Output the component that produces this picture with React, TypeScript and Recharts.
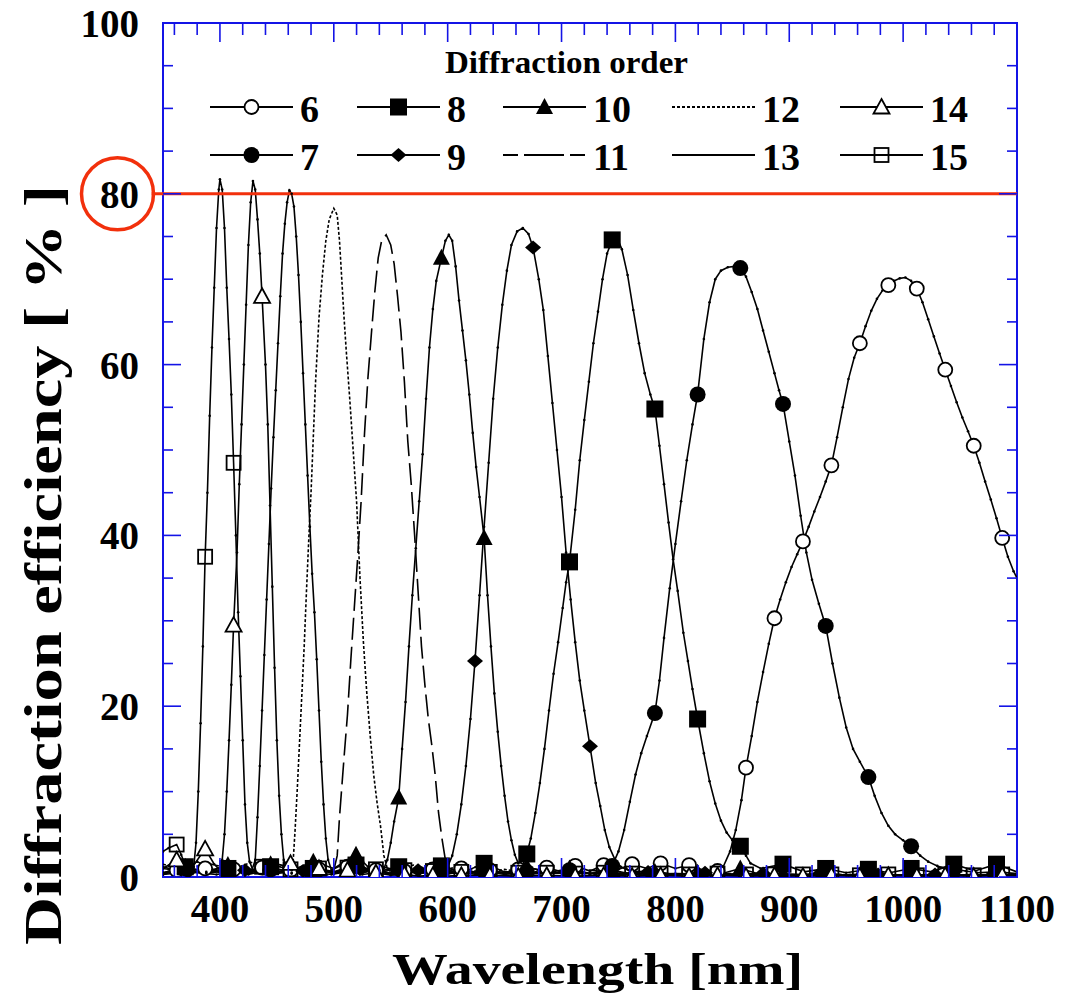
import React from 'react';
import { ComposedChart, Line, XAxis, YAxis, ReferenceArea, ReferenceLine } from 'recharts';

// ---------- data (wavelength nm, diffraction efficiency %) ----------
const ORDER_6: [number, number][] = [
  [350,0.3],[362,0.8],[375,0.4],[387,1.0],[400,0.5],[412,0.9],[425,0.4],[437,1.1],[450,0.5],[462,0.8],[475,0.4],[487,0.9],[500,0.5],[512,1.2],[525,0.5],[537,0.8],[550,0.4],[562,0.7],[575,0.4],[587,0.9],[600,0.5],[612,1.0],[625,0.4],[637,0.8],[650,0.5],[662,0.9],[675,0.5],[687,1.1],[700,0.6],[712,1.3],[725,0.7],[737,1.4],[750,0.9],[762,1.5],[775,1.0],[787,1.6],[800,1.0],[812,1.4],[825,0.8],[837,0.7],[842,1.2],[848,3.0],[853,5.5],[858,9.0],[862,12.8],[867,16.5],[872,20.5],[877,24.0],[882,27.3],[887,30.3],[892,32.5],[897,34.5],[902,36.3],[907,37.8],[912,39.3],[917,41.0],[922,42.8],[927,44.5],[932,46.3],[937,48.2],[942,51.5],[947,55.0],[952,58.3],[957,60.8],[962,62.5],[967,64.5],[972,66.3],[977,67.7],[982,68.7],[987,69.3],[992,69.8],[997,70.1],[1002,70.2],[1007,69.8],[1012,68.9],[1017,67.3],[1022,65.3],[1027,63.3],[1032,61.3],[1037,59.4],[1042,57.5],[1047,55.6],[1052,53.8],[1057,52.2],[1062,50.5],[1067,48.5],[1072,46.3],[1077,44.2],[1082,42.0],[1087,39.7],[1092,37.5],[1097,35.8],[1100,35.0],
];
const ORDER_7: [number, number][] = [
  [350,0.4],[369.5,1.0],[388,0.4],[407,0.8],[425,0.3],[444.5,0.9],[463,0.4],[482,1.1],[500,0.5],[519.5,1.3],[538,0.5],[557,1.0],[575,0.4],[594.5,0.8],[613,0.3],[632,0.7],[650,0.3],[669.5,0.6],[688,0.3],[707,0.8],[725,0.4],[735,0.5],[740,0.8],[744.5,1.3],[750,3.0],[755,5.5],[760,8.8],[765,12.0],[770,14.5],[775,16.5],[782,19.2],[786,23.0],[790,28.0],[795,33.8],[800,39.0],[805,44.0],[810,48.8],[815,53.0],[819.5,56.5],[825,63.0],[830,67.3],[835,70.0],[840,71.0],[846,71.4],[852,71.5],[857,71.3],[862,70.3],[867,68.5],[872,66.5],[877,64.0],[882,61.5],[887,59.0],[891,57.0],[894.5,55.4],[900,51.0],[905,47.0],[910,42.3],[915,38.0],[920,34.8],[926,32.0],[932,29.4],[938,25.0],[944,21.0],[950,17.5],[956,15.0],[962,13.5],[969.5,11.7],[975,9.5],[981,7.5],[987,6.0],[993,5.0],[1000,4.3],[1007,3.6],[1015,2.5],[1022,1.8],[1030,1.3],[1037,1.0],[1044.5,0.9],[1055,0.7],[1065,0.5],[1082,0.6],[1100,0.4],
];
const ORDER_8: [number, number][] = [
  [350,0.5],[369.5,1.2],[388,0.5],[407,1.0],[425,0.4],[444.5,1.2],[463,0.5],[482,1.0],[500,0.4],[519.5,1.4],[538,0.6],[557,1.2],[575,0.5],[594.5,1.3],[613,0.5],[632,1.6],[650,0.6],[660,0.6],[665,1.0],[669.5,2.7],[673,4.5],[677,7.5],[681,11.0],[685,15.0],[689,19.5],[693,23.8],[697,27.5],[701,31.5],[704,34.5],[707,36.9],[712,43.0],[716,48.8],[720,53.5],[724,58.0],[728,62.5],[732,66.2],[736,70.0],[740,73.0],[744.5,74.6],[749,74.8],[753,73.5],[758,70.5],[763,66.4],[768,62.5],[773,59.0],[778,56.5],[782,54.8],[786,50.5],[790,46.0],[794,41.5],[798,37.2],[802,33.5],[807,28.6],[811,25.3],[815,22.0],[819.5,18.5],[825,14.5],[830,11.2],[835,8.6],[840,6.6],[845,5.2],[850,4.3],[857,3.6],[862,2.5],[866,1.6],[875,1.0],[894.5,1.5],[913,0.6],[932,1.0],[950,0.5],[969.5,0.9],[988,0.5],[1007,1.0],[1025,0.6],[1044.5,1.5],[1063,0.7],[1082,1.5],[1100,0.6],
];
const ORDER_9: [number, number][] = [
  [350,0.3],[372,0.6],[397,0.3],[422,0.8],[447,0.4],[473,0.7],[498,0.3],[523,0.9],[548,0.4],[574,0.8],[590,0.5],[596,0.7],[600,1.2],[604,2.5],[608,5.0],[612,8.5],[616,13.0],[620,18.5],[624,25.3],[628,33.0],[632,41.0],[636,48.5],[640,56.0],[644,62.0],[648,67.0],[652,71.0],[656,74.0],[661,75.6],[666,76.0],[671,75.3],[675,73.7],[680,70.0],[684,66.4],[688,61.0],[692,55.5],[696,50.0],[700,44.5],[704,38.0],[708,32.5],[712,27.5],[716,23.0],[720,19.5],[725,15.3],[730,11.0],[734,8.3],[738,5.5],[742,3.5],[747,2.0],[752,1.2],[760,0.7],[776,0.6],[801,0.3],[826,0.5],[851,0.3],[877,0.4],[902,0.2],[927,0.4],[952,0.2],[978,0.3],[1003,0.2],[1028,0.3],[1053,0.2],[1079,0.3],[1100,0.2],
];
const ORDER_10: [number, number][] = [
  [350,0.5],[369.5,1.2],[388,0.6],[407,1.4],[425,0.7],[444.5,1.5],[463,0.8],[482,1.8],[500,1.0],[519.5,2.6],[530,1.2],[540,0.8],[544,1.0],[547,2.0],[550,4.0],[553,6.5],[557,9.3],[560,15.0],[563,20.5],[566,27.0],[569,33.0],[572,38.5],[575,44.0],[578,49.5],[581,56.0],[584,62.0],[587,66.5],[590,69.8],[594.5,72.5],[598,74.5],[601,75.2],[604,74.5],[607,71.5],[610,67.5],[613,64.0],[616,60.5],[619,56.5],[622,52.0],[625,48.0],[628,44.5],[632,39.7],[635,33.0],[638,27.0],[641,21.5],[644,17.0],[647,13.0],[650,9.5],[653,6.5],[656,4.3],[659,2.6],[662,1.6],[665,1.0],[669.5,1.2],[688,0.5],[707,1.0],[725,0.4],[744.5,0.8],[763,0.3],[782,0.6],[800,0.3],[819.5,0.5],[838,0.3],[857,1.0],[875,0.3],[894.5,0.4],[913,0.2],[932,0.4],[950,0.2],[969.5,0.3],[988,0.2],[1007,0.3],[1025,0.2],[1044.5,0.3],[1063,0.2],[1082,0.3],[1100,0.2],
];
const ORDER_11: [number, number][] = [
  [350,1.0],[375,0.5],[400,1.2],[425,0.6],[450,1.5],[475,0.8],[490,1.2],[500,0.8],[503,2.5],[505,7.0],[509,14.0],[512,19.0],[515,25.5],[518,31.5],[521,37.5],[524,44.0],[527,52.0],[530,58.5],[533,63.6],[536,68.5],[539,72.5],[542,74.5],[546,75.2],[550,74.0],[553,71.8],[556,68.0],[559,63.8],[562,58.0],[565,51.0],[568,46.0],[571,40.0],[574,33.5],[577,27.0],[580,22.5],[583,18.5],[586,15.5],[589,12.0],[592,7.5],[595,4.5],[598,2.0],[602,0.8],[606,0.6],[625,1.2],[650,0.5],[675,1.0],[700,0.4],[725,0.8],[750,0.4],[775,0.6],[800,0.3],[825,0.5],[850,0.3],[875,0.4],[900,0.3],[950,0.3],[1000,0.2],[1050,0.3],[1100,0.2],
];
const ORDER_12: [number, number][] = [
  [350,1.5],[370,0.8],[390,1.6],[410,0.9],[430,1.8],[445,1.0],[455,1.3],[460,0.6],[464,1.2],[466,5.5],[468,10.5],[470,16.0],[472,21.5],[474,27.0],[476,33.5],[478,39.5],[480,45.0],[482,51.5],[484,58.0],[487,65.5],[490,70.5],[493,74.5],[496,77.0],[500,78.3],[503,77.5],[505,74.5],[507,70.0],[509,65.5],[511,61.5],[514,56.0],[517,50.0],[520,44.0],[523,35.0],[526,27.5],[529,21.5],[532,16.5],[535,12.0],[538,8.7],[541,6.0],[544,2.5],[547,1.0],[550,0.6],[570,1.4],[590,0.7],[610,1.2],[630,0.5],[650,0.9],[670,0.4],[700,0.6],[730,0.3],[760,0.5],[800,0.3],[850,0.4],[900,0.2],[950,0.3],[1000,0.2],[1100,0.2],
];
const ORDER_13: [number, number][] = [
  [350,1.2],[365,0.6],[380,1.8],[395,0.8],[410,1.5],[420,0.7],[428,0.8],[431,2.0],[433,7.0],[435,13.0],[437,19.5],[439,26.0],[441,32.5],[443,39.0],[445,45.5],[447,51.5],[449,57.0],[451,62.5],[453,68.0],[455,73.0],[457,76.5],[459,79.0],[461,80.4],[463,80.0],[465,78.5],[467,75.0],[469,70.5],[471,65.0],[473,59.0],[475,53.0],[477,47.0],[479,41.0],[481,35.5],[483,31.0],[485,25.5],[487,19.5],[489,13.5],[491,8.5],[493,4.5],[495,2.0],[498,0.8],[510,1.6],[525,0.7],[540,1.3],[560,0.6],[580,1.0],[600,0.4],[630,0.7],[660,0.3],[700,0.5],[750,0.3],[800,0.4],[900,0.2],[1000,0.2],[1100,0.2],
];
const ORDER_14: [number, number][] = [
  [350,1.0],[362,2.0],[375,1.0],[387,3.3],[395,1.5],[400,0.8],[402,2.0],[404,5.0],[406,10.0],[408,16.0],[410,22.5],[412,29.5],[415,38.0],[417,46.0],[419,53.0],[421,60.0],[423,67.0],[425,74.0],[427,79.0],[429,81.5],[431,80.5],[433,77.0],[435,73.0],[437,68.0],[440,60.0],[442,53.0],[444,43.5],[446,34.0],[448,24.5],[450,16.0],[452,9.5],[454,5.0],[456,2.0],[458,1.0],[462,1.6],[475,0.6],[487,1.0],[500,0.4],[512,0.8],[525,0.3],[537,0.5],[550,0.2],[562,0.3],[575,0.1],[587,0.2],[600,0.1],[612,0.2],[637,0.2],[662,0.1],[687,0.2],[712,0.1],[737,0.2],[762,0.1],[787,0.2],[812,0.1],[837,0.2],[862,0.1],[887,0.2],[912,0.1],[937,0.2],[962,0.1],[987,0.2],[1012,0.1],[1037,0.2],[1062,0.1],[1087,0.2],[1100,0.1],
];
const ORDER_15: [number, number][] = [
  [350,3.0],[355,3.4],[362,3.8],[366,2.6],[370,1.2],[374,0.6],[377,1.2],[379,4.0],[381,10.0],[383,18.0],[385,27.0],[387,37.5],[389,45.0],[391,54.0],[393,62.0],[395,69.0],[397,76.0],[399,80.5],[400,81.7],[402,80.5],[404,76.0],[406,69.0],[408,63.0],[410,56.5],[412,48.5],[414,40.0],[416,31.0],[418,23.5],[420,16.0],[422,8.5],[424,4.0],[426,1.8],[429,0.8],[437,1.2],[449,0.6],[462,0.9],[475,0.5],[487,1.0],[500,0.6],[512,1.1],[525,0.5],[537,0.9],[550,0.4],[562,0.8],[575,0.4],[587,0.7],[600,0.4],[612,0.6],[625,0.3],[637,0.6],[662,0.5],[687,0.5],[712,0.4],[737,0.5],[762,0.4],[787,0.4],[812,0.3],[837,0.4],[862,0.3],[887,0.3],[912,0.3],[937,0.3],[962,0.2],[987,0.3],[1012,0.2],[1037,0.3],[1062,0.2],[1087,0.3],[1100,0.2],
];

// wavelengths at which the large symbols are drawn
const MARKS_25 = [362,387,412,437,462,487,512,537,562,587,612,637,662,687,712,737,762,787,812,837,862,887,912,937,962,987,1012,1037,1062,1087];
const MARKS_37 = [369.5,407,444.5,482,519.5,557,594.5,632,669.5,707,744.5,782,819.5,857,894.5,932,969.5,1007,1044.5,1082];
const MARKS_50 = [372,422,473,523,574,624,675,725,776,826,877,927,978,1028,1079];

const X_TICKS = [360,380,400,420,440,460,480,500,520,540,560,580,600,620,640,660,680,700,720,740,760,780,800,820,840,860,880,900,920,940,960,980,1000,1020,1040,1060,1080,1100];
const Y_TICKS = [0,5,10,15,20,25,30,35,40,45,50,55,60,65,70,75,80,85,90,95,100];

const LEGEND_ROW_1 = ['6', '8', '10', '12', '14'];
const LEGEND_ROW_2 = ['7', '9', '11', '13', '15'];

// ---------- style ----------
type MarkerType = 'openCircle' | 'filledCircle' | 'filledSquare' | 'filledDiamond' | 'filledTriangle' | 'openTriangle' | 'openSquare' | null;
interface SeriesCfg { name: string; data: [number, number][]; marker: MarkerType; marks: number[]; dash?: string; tiny: boolean; }

const SERIES: SeriesCfg[] = [
  { name: '13', data: ORDER_13, marker: null, marks: [], tiny: true },
  { name: '12', data: ORDER_12, marker: null, marks: [], dash: '3 2', tiny: false },
  { name: '11', data: ORDER_11, marker: null, marks: [], dash: '22 7', tiny: false },
  { name: '6', data: ORDER_6, marker: 'openCircle', marks: MARKS_25, tiny: true },
  { name: '9', data: ORDER_9, marker: 'filledDiamond', marks: MARKS_50, tiny: true },
  { name: '10', data: ORDER_10, marker: 'filledTriangle', marks: MARKS_37, tiny: true },
  { name: '7', data: ORDER_7, marker: 'filledCircle', marks: MARKS_37, tiny: true },
  { name: '8', data: ORDER_8, marker: 'filledSquare', marks: MARKS_37, tiny: true },
  { name: '15', data: ORDER_15, marker: 'openSquare', marks: MARKS_25, tiny: true },
  { name: '14', data: ORDER_14, marker: 'openTriangle', marks: MARKS_25, tiny: true },
];

const W = 1077;
const H = 1005;
const PL = 163;
const PT = 23;
const PW = 854;
const PH = 854;
const X_AXIS_H = 60;
const Y_AXIS_W = 80;
const BLUE = '#1414e6';
const RED = '#f2300c';
const FONT = "'Liberation Serif', 'Times New Roman', serif";

const Marker = ({ type, cx, cy }: { type: MarkerType; cx: number; cy: number }) => {
  const sw = 1.8;
  switch (type) {
    case 'openCircle':
      return <circle cx={cx} cy={cy} r={7} fill="#fff" stroke="#000" strokeWidth={sw} />;
    case 'filledCircle':
      return <circle cx={cx} cy={cy} r={8} fill="#000" />;
    case 'filledSquare':
      return <rect x={cx - 8.5} y={cy - 8.5} width={17} height={17} fill="#000" />;
    case 'filledDiamond':
      return <polygon points={`${cx},${cy - 7} ${cx + 8},${cy} ${cx},${cy + 7} ${cx - 8},${cy}`} fill="#000" />;
    case 'filledTriangle':
      return <polygon points={`${cx},${cy - 9} ${cx + 8.5},${cy + 7} ${cx - 8.5},${cy + 7}`} fill="#000" />;
    case 'openTriangle':
      return <polygon points={`${cx},${cy - 8} ${cx + 8},${cy + 6.5} ${cx - 8},${cy + 6.5}`} fill="#fff" stroke="#000" strokeWidth={sw} />;
    case 'openSquare':
      return <rect x={cx - 7} y={cy - 7} width={14} height={14} fill="none" stroke="#000" strokeWidth={sw} />;
    default:
      return null;
  }
};

const makeDot = (cfg: SeriesCfg) => {
  const set = new Set(cfg.marks);
  return (props: any) => {
    const { cx, cy, payload, index } = props;
    if (cx == null || cy == null || isNaN(cx) || isNaN(cy)) return <g key={`d${cfg.name}-${index}`} />;
    if (cfg.marker && set.has(payload.x)) {
      return <g key={`d${cfg.name}-${index}`}><Marker type={cfg.marker} cx={cx} cy={cy} /></g>;
    }
    if (cfg.tiny) return <circle key={`d${cfg.name}-${index}`} cx={cx} cy={cy} r={1.3} fill="#000" />;
    return <g key={`d${cfg.name}-${index}`} />;
  };
};

const XTick = (props: any) => {
  const { x, y, payload } = props;
  const v = payload.value as number;
  const major = v % 100 === 0;
  const len = major ? 19 : 12;
  return (
    <g>
      <line x1={x} y1={y} x2={x} y2={y - len} stroke={BLUE} strokeWidth={1.6} />
      <line x1={x} y1={y - PH} x2={x} y2={y - PH + len} stroke={BLUE} strokeWidth={1.6} />
      {major && (
        <text x={x} y={y + 45} textAnchor="middle" fontFamily={FONT} fontWeight="bold" fontSize={39} fill="#000">{v}</text>
      )}
    </g>
  );
};

const YTick = (props: any) => {
  const { x, y, payload } = props;
  const v = payload.value as number;
  const major = v % 20 === 0;
  const len = major ? 18 : 10;
  return (
    <g>
      <line x1={x} y1={y} x2={x + len} y2={y} stroke={BLUE} strokeWidth={1.6} />
      <line x1={x + PW} y1={y} x2={x + PW - len} y2={y} stroke={BLUE} strokeWidth={1.6} />
      {major && (
        <text x={x - 24} y={y + 14} textAnchor="end" fontFamily={FONT} fontWeight="bold" fontSize={39} fill="#000">{v}</text>
      )}
      {v === 80 && <circle cx={x - 45.5} cy={y} r={36} fill="none" stroke={RED} strokeWidth={3.5} />}
    </g>
  );
};

const LEG_COLS = [210, 357, 503, 672, 840];
const LEG_ROWS_Y = [107, 155];

const LegendItem = ({ name, x, y }: { name: string; x: number; y: number }) => {
  const cfg = SERIES.find((s) => s.name === name)!;
  return (
    <g>
      <line x1={x} y1={y} x2={x + 83} y2={y} stroke="#000" strokeWidth={2} strokeDasharray={cfg.name === '11' ? '15 6 40 6' : cfg.dash} />
      {cfg.marker && <Marker type={cfg.marker} cx={x + 41.5} cy={y} />}
      <text x={x + 90} y={y + 15} fontFamily={FONT} fontWeight="bold" fontSize={38} fill="#000">{name}</text>
    </g>
  );
};

export default function App() {
  return (
    <div style={{ position: 'absolute', left: 0, top: 0, width: W, height: H, background: '#fff' }}>
      <ComposedChart
        width={W}
        height={H}
        margin={{ top: PT, left: PL - Y_AXIS_W, right: W - PL - PW, bottom: H - PT - PH - X_AXIS_H }}
      >
        <XAxis
          xAxisId={0}
          type="number"
          dataKey="x"
          domain={[350, 1100]}
          allowDataOverflow
          ticks={X_TICKS}
          interval={0}
          tickSize={0}
          tickMargin={0}
          tickLine={false}
          axisLine={false}
          height={X_AXIS_H}
          tick={XTick}
        />
        <YAxis
          yAxisId={0}
          type="number"
          domain={[0, 100]}
          allowDataOverflow
          ticks={Y_TICKS}
          interval={0}
          tickSize={0}
          tickMargin={0}
          tickLine={false}
          axisLine={false}
          width={Y_AXIS_W}
          tick={YTick}
        />
        <ReferenceArea x1={350} x2={1100} y1={0} y2={100} fill="none" stroke={BLUE} strokeWidth={2} ifOverflow="visible" />
        {SERIES.map((s) => (
          <Line
            key={s.name}
            data={s.data.map(([x, y]) => ({ x, y }))}
            dataKey="y"
            type="linear"
            stroke="#000"
            strokeWidth={1.6}
            strokeDasharray={s.dash}
            dot={makeDot(s)}
            activeDot={false}
            isAnimationActive={false}
          />
        ))}
        <ReferenceLine
          segment={[{ x: 340, y: 80 }, { x: 1100, y: 80 }]}
          stroke={RED}
          strokeWidth={3}
          ifOverflow="visible"
        />
      </ComposedChart>
      <svg width={W} height={H} style={{ position: 'absolute', left: 0, top: 0, pointerEvents: 'none' }}>
        <text x={566.5} y={73} textAnchor="middle" fontFamily={FONT} fontWeight="bold" fontSize={32} textLength={243} lengthAdjust="spacingAndGlyphs" fill="#000">Diffraction order</text>
        {LEGEND_ROW_1.map((n, i) => <LegendItem key={n} name={n} x={LEG_COLS[i]} y={LEG_ROWS_Y[0]} />)}
        {LEGEND_ROW_2.map((n, i) => <LegendItem key={n} name={n} x={LEG_COLS[i]} y={LEG_ROWS_Y[1]} />)}
        <text x={597.5} y={984} textAnchor="middle" fontFamily={FONT} fontWeight="bold" fontSize={44} textLength={411} lengthAdjust="spacingAndGlyphs" fill="#000">Wavelength [nm]</text>
        <text transform="translate(61,565) rotate(-90)" textAnchor="middle" fontFamily={FONT} fontWeight="bold" fontSize={52} textLength={760} lengthAdjust="spacingAndGlyphs" fill="#000">Diffraction efficiency [ % ]</text>
      </svg>
    </div>
  );
}
